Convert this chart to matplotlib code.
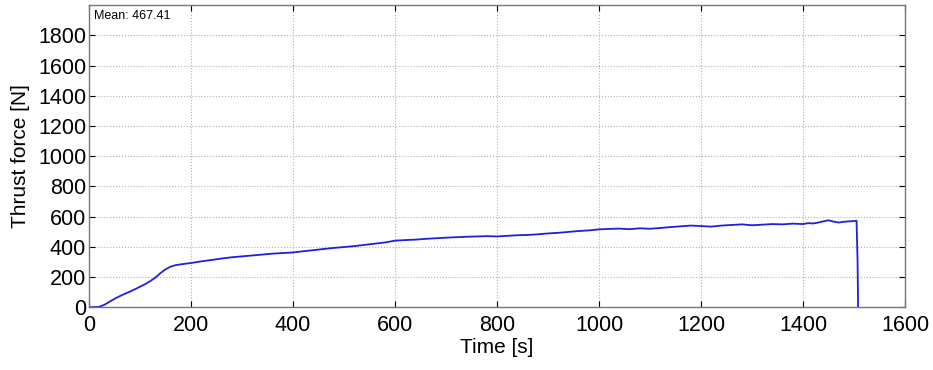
import matplotlib
matplotlib.use("Agg")
import matplotlib.pyplot as plt

# thrust force trace (time in s, force in N)
time_s = [0, 10, 20, 30, 40, 50, 60, 70, 80, 90, 100, 110, 120, 130, 140,
          150, 160, 170, 180, 190, 200, 220, 240, 260, 280, 300, 320, 340,
          360, 380, 400, 420, 440, 460, 480, 500, 520, 540, 560, 580, 600,
          620, 640, 660, 680, 700, 720, 740, 760, 780, 800, 820, 840, 860,
          880, 900, 920, 940, 960, 980, 1000, 1020, 1040, 1060, 1080, 1100,
          1120, 1140, 1160, 1180, 1200, 1220, 1240, 1260, 1280, 1300, 1320,
          1340, 1360, 1380, 1400, 1410, 1420, 1430, 1440, 1450, 1460, 1470,
          1480, 1490, 1500, 1505, 1507, 1508]
force_n = [0, 0, 2, 15, 35, 55, 72, 88, 102, 118, 135, 152, 172, 195, 225,
           250, 268, 278, 283, 288, 292, 303, 312, 322, 330, 336, 342, 348,
           354, 358, 362, 370, 377, 385, 392, 398, 404, 412, 420, 428, 440,
           444, 447, 452, 456, 460, 463, 466, 468, 470, 468, 472, 476, 478,
           482, 488, 492, 498, 504, 508, 515, 518, 520, 516, 522, 519, 524,
           530, 535, 540, 537, 533, 540, 544, 548, 542, 546, 550, 548, 553,
           550, 556, 554, 560, 568, 575, 566, 560, 565, 568, 570, 572, 300, 0]

mean_value = 467.41

xticks = [0, 200, 400, 600, 800, 1000, 1200, 1400, 1600]
yticks = [0, 200, 400, 600, 800, 1000, 1200, 1400, 1600, 1800]

plt.rcParams["font.family"] = ["Liberation Sans", "DejaVu Sans"]

fig = plt.figure(figsize=(9.33, 3.7), dpi=100)
ax = fig.add_axes([0.0954, 0.170, 0.8746, 0.816])

ax.plot(time_s, force_n, color="#1f1fe0", linewidth=1.3)

ax.set_xlim(0, 1600)
ax.set_ylim(0, 2000)
ax.set_xticks(xticks)
ax.set_yticks(yticks)
ax.tick_params(direction="in", labelsize=15.5, length=4, top=True, right=True)
ax.tick_params(axis="x", pad=6)
ax.tick_params(axis="y", pad=2)
ax.grid(True, linestyle=":", color="#b0b0b0", linewidth=0.8)

for s in ax.spines.values():
    s.set_color("#777777")
    s.set_linewidth(1.0)

ax.set_xlabel("Time [s]", fontsize=15, labelpad=1)
ax.set_ylabel("Thrust force [N]", fontsize=15, labelpad=6)

ax.text(0.006, 0.985, f"Mean: {mean_value:.2f}", transform=ax.transAxes,
        ha="left", va="top", fontsize=9,
        bbox=dict(facecolor="white", edgecolor="none", pad=1))

fig.savefig("out.png", dpi=100)
